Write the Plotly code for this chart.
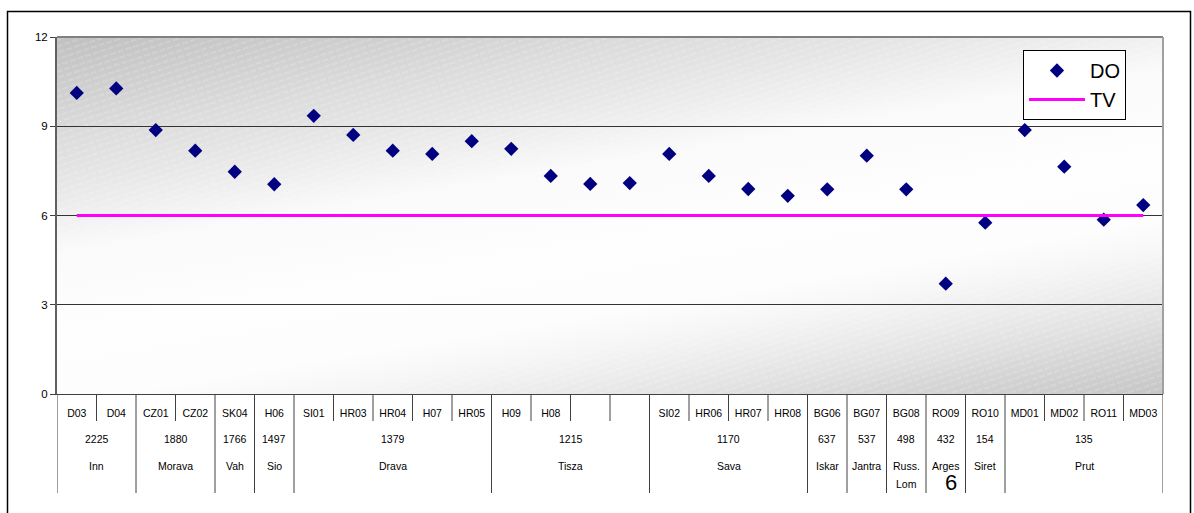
import base64
import plotly.graph_objects as go

# ---------------- data ----------------
codes = ["D03", "D04", "CZ01", "CZ02", "SK04", "H06", "SI01", "HR03", "HR04", "H07",
         "HR05", "H09", "H08", "", "", "SI02", "HR06", "HR07", "HR08", "BG06",
         "BG07", "BG08", "RO09", "RO10", "MD01", "MD02", "RO11", "MD03"]
do_values = [10.12, 10.27, 8.87, 8.18, 7.47, 7.05, 9.35, 8.71, 8.18, 8.07,
             8.50, 8.24, 7.33, 7.06, 7.09, 8.07, 7.33, 6.89, 6.66, 6.88,
             8.01, 6.88, 3.71, 5.76, 8.87, 7.64, 5.86, 6.35]
tv_level = 6
group_numbers = ["2225", "1880", "1766", "1497", "1379", "1215", "1170",
                 "637", "537", "498", "432", "154", "135"]
group_rivers = [["Inn"], ["Morava"], ["Vah"], ["Sio"], ["Drava"], ["Tisza"], ["Sava"],
                ["Iskar"], ["Jantra"], ["Russ.", "Lom"], ["Arges"], ["Siret"], ["Prut"]]
group_sizes = [2, 2, 1, 1, 5, 4, 4, 1, 1, 1, 1, 1, 4]
y_ticks = [0, 3, 6, 9, 12]

# ---------------- geometry (pixels) ----------------
W, H = 1194, 513
L, R, T, B = 57, 31, 37, 119
PW, PH = W - L - R, H - T - B
FONT = "Liberation Sans Narrow, Liberation Sans, Arial, sans-serif"
FONT_W = "Liberation Sans, Arial, sans-serif"


def py(px):  # pixel offset below plot bottom -> paper y
    return -px / PH


n = len(codes)
xs = list(range(n))

# background gradient as svg (gray top-left and bottom-right, white diagonal band)
svg = f'''<svg xmlns="http://www.w3.org/2000/svg" width="{PW}" height="{PH}" viewBox="0 0 {PW} {PH}" preserveAspectRatio="none">
<defs>
<linearGradient id="g" gradientUnits="userSpaceOnUse" x1="0" y1="0" x2="86.6" y2="524.7">
<stop offset="0" stop-color="#c0c0c0"/>
<stop offset="0.186" stop-color="#dcdcdc"/>
<stop offset="0.269" stop-color="#e6e6e6"/>
<stop offset="0.343" stop-color="#f1f1f1"/>
<stop offset="0.399" stop-color="#fafafa"/>
<stop offset="0.55" stop-color="#fefefe"/>
<stop offset="0.68" stop-color="#fdfdfd"/>
<stop offset="0.74" stop-color="#f6f6f6"/>
<stop offset="0.80" stop-color="#ececec"/>
<stop offset="0.86" stop-color="#e1e1e1"/>
<stop offset="0.91" stop-color="#d6d6d6"/>
<stop offset="1" stop-color="#c6c6c6"/>
</linearGradient>
<pattern id="p" width="8" height="6" patternUnits="userSpaceOnUse" patternTransform="rotate(-18)">
<line x1="0" y1="3" x2="8" y2="3" stroke="#ffffff" stroke-width="1" stroke-dasharray="3,2" stroke-opacity="0.3"/>
</pattern>
</defs>
<rect width="{PW}" height="{PH}" fill="url(#g)"/>
<rect width="{PW}" height="{PH}" fill="url(#p)"/>
</svg>'''
svg_uri = "data:image/svg+xml;base64," + base64.b64encode(svg.encode()).decode()

fig = go.Figure()
fig.add_trace(go.Scatter(
    x=xs, y=do_values, mode="markers", name="DO",
    marker=dict(symbol="diamond", size=11, color="#000080"),
))
fig.add_trace(go.Scatter(
    x=[xs[0], xs[-1]], y=[tv_level, tv_level], mode="lines", name="TV",
    line=dict(color="#ff00ff", width=3),
))

shapes = []
annotations = []

# group separators / labels
start = 0
for gi, size in enumerate(group_sizes):
    end = start + size
    for k in range(start + 1, end):
        shapes.append(dict(type="line", xref="x", yref="paper", x0=k - 0.5, x1=k - 0.5,
                           y0=0, y1=py(27), line=dict(color="#404040", width=1)))
    shapes.append(dict(type="line", xref="x", yref="paper", x0=start - 0.5, x1=start - 0.5,
                       y0=0, y1=py(99), line=dict(color="#404040", width=1)))
    cx = (start + end - 1) / 2
    annotations.append(dict(x=cx, xref="x", y=py(45), yref="paper", text=group_numbers[gi],
                            showarrow=False, font=dict(family=FONT, size=10.5, color="#000"),
                            xanchor="center", yanchor="middle"))
    for li, line in enumerate(group_rivers[gi]):
        annotations.append(dict(x=cx, xref="x", y=py(72 + 18 * li), yref="paper", text=line,
                                showarrow=False, font=dict(family=FONT, size=10.5, color="#000"),
                                xanchor="center", yanchor="middle"))
    start = end
shapes.append(dict(type="line", xref="x", yref="paper", x0=n - 0.5, x1=n - 0.5,
                   y0=0, y1=py(99), line=dict(color="#404040", width=1)))

# top border of plot area and right edge
shapes.append(dict(type="line", xref="paper", yref="paper", x0=0, x1=1, y0=1, y1=1,
                   line=dict(color="#808080", width=2)))
shapes.append(dict(type="line", xref="paper", yref="paper", x0=1, x1=1, y0=0, y1=1,
                   line=dict(color="#a0a0a0", width=2)))
# outer chart border
shapes.append(dict(type="rect", xref="paper", yref="paper",
                   x0=(7.5 - L) / PW, x1=(1190.5 - L) / PW, y0=(H - B - 11.5) / PH, y1=py(300),
                   line=dict(color="#000000", width=1.5), fillcolor="rgba(0,0,0,0)"))

# stray page number
annotations.append(dict(x=(951 - L) / PW, xref="paper", y=py(88), yref="paper", text="6",
                        showarrow=False, font=dict(family=FONT_W, size=22, color="#000"),
                        xanchor="center", yanchor="middle"))

fig.update_layout(
    width=W, height=H,
    margin=dict(l=L, r=R, t=T, b=B, autoexpand=False),
    paper_bgcolor="#ffffff",
    plot_bgcolor="rgba(0,0,0,0)",
    font=dict(family=FONT, size=10.5, color="#000"),
    images=[dict(source=svg_uri, xref="paper", yref="paper", x=0, y=1, sizex=1, sizey=1,
                 sizing="stretch", layer="below", xanchor="left", yanchor="top")],
    shapes=shapes,
    annotations=annotations,
    showlegend=True,
    legend=dict(x=(1023 - L) / PW, y=(H - B - 50) / PH, xanchor="left", yanchor="top",
                bgcolor="#ffffff", bordercolor="#000000", borderwidth=1,
                font=dict(family=FONT_W, size=20, color="#000"),
                tracegroupgap=8, itemwidth=56),
    xaxis=dict(range=[-0.5, n - 0.5], tickvals=xs, ticktext=codes, showgrid=False,
               zeroline=False, showline=True, linecolor="#404040", linewidth=1,
               ticks="", ticklabelstandoff=9, tickfont=dict(family=FONT, size=10.5),
               fixedrange=True),
    yaxis=dict(range=[0, 12], tickvals=y_ticks, showgrid=True, gridcolor="#333333",
               gridwidth=1, zeroline=False, showline=True, linecolor="#606060",
               linewidth=2, ticks="outside", ticklen=5, tickcolor="#404040",
               tickfont=dict(family=FONT, size=11.5), fixedrange=True),
)

fig.write_html("out.html", config={"displayModeBar": False},
               post_script="document.body.style.margin='0';document.body.style.overflow='hidden';")
